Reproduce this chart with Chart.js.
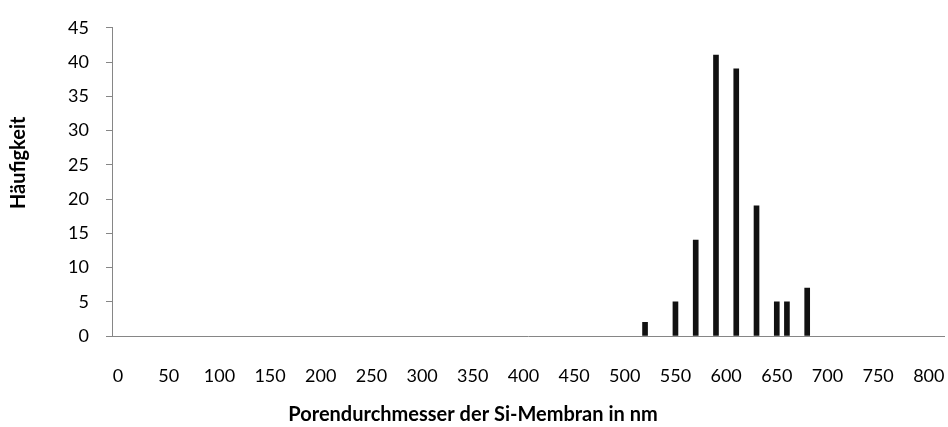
<!DOCTYPE html>
<html lang="de">
<head>
    <meta charset="UTF-8">
    <title>Porendurchmesser</title>
    <script src="https://cdn.jsdelivr.net/npm/chart.js"></script>
    <style>
        html, body { margin: 0; padding: 0; background: #fff; }
        #wrap { width: 948px; height: 427px; }
    </style>
</head>
<body>
    <div id="wrap"><canvas id="poreChart" width="948" height="427"></canvas></div>
    <script>
        // pore diameter (nm) and how often it was counted
        const diameters = [520, 550, 570, 590, 610, 630, 650, 660, 680];
        const counts = [2, 5, 14, 41, 39, 19, 5, 5, 7];
        const xTickValues = [0, 50, 100, 150, 200, 250, 300, 350, 400, 450, 500, 550, 600, 650, 700, 750, 800];

        const xTitle = 'Porendurchmesser der Si-Membran in nm';
        const yTitle = 'Häufigkeit';

        const axisGrey = '#868686';
        const fontFamily = 'Lato, "Liberation Sans", sans-serif';

        const points = diameters.map((d, i) => ({ x: d, y: counts[i] }));

        // Excel puts the axis titles a bit off-centre, so draw them ourselves
        const axisTitles = {
            id: 'axisTitles',
            afterDraw(chart) {
                const c = chart.ctx;
                const area = chart.chartArea;
                c.save();
                c.fillStyle = '#000';
                c.font = 'bold 20px ' + fontFamily;
                c.textAlign = 'center';
                c.textBaseline = 'middle';
                c.fillText(xTitle, area.left + 361, chart.height - 12);
                c.translate(19, area.top + 135);
                c.rotate(-Math.PI / 2);
                c.fillText(yTitle, 0, 0);
                c.restore();
            }
        };

        const ctx = document.getElementById('poreChart').getContext('2d');
        new Chart(ctx, {
            type: 'bar',
            data: {
                datasets: [{
                    label: yTitle,
                    data: points,
                    backgroundColor: '#111111',
                    borderWidth: 0,
                    barThickness: 5
                }]
            },
            options: {
                responsive: false,
                animation: false,
                layout: { padding: { top: 20, right: 4, bottom: 0, left: 0 } },
                plugins: {
                    legend: { display: false },
                    tooltip: { enabled: false }
                },
                scales: {
                    x: {
                        type: 'linear',
                        offset: false,
                        min: -6,
                        max: 815,
                        afterBuildTicks: scale => {
                            scale.ticks = xTickValues.map(v => ({ value: v }));
                        },
                        afterFit: scale => {
                            scale.height = 91;
                            // let the "800" label hang past the axis end like in Excel
                            scale.paddingLeft = 0;
                            scale.paddingRight = 0;
                        },
                        grid: { drawOnChartArea: false, drawTicks: false },
                        border: { color: axisGrey, width: 1 },
                        ticks: {
                            color: '#000',
                            padding: 29,
                            maxRotation: 0,
                            autoSkip: false,
                            font: { family: fontFamily, size: 18 }
                        }
                    },
                    y: {
                        min: 0,
                        max: 45,
                        afterFit: scale => { scale.width = 112; },
                        grid: { drawOnChartArea: false, tickLength: 6, color: axisGrey },
                        border: { color: axisGrey, width: 1 },
                        ticks: {
                            stepSize: 5,
                            color: '#000',
                            padding: 17,
                            font: { family: fontFamily, size: 18 }
                        }
                    }
                }
            },
            plugins: [axisTitles]
        });
    </script>
</body>
</html>
